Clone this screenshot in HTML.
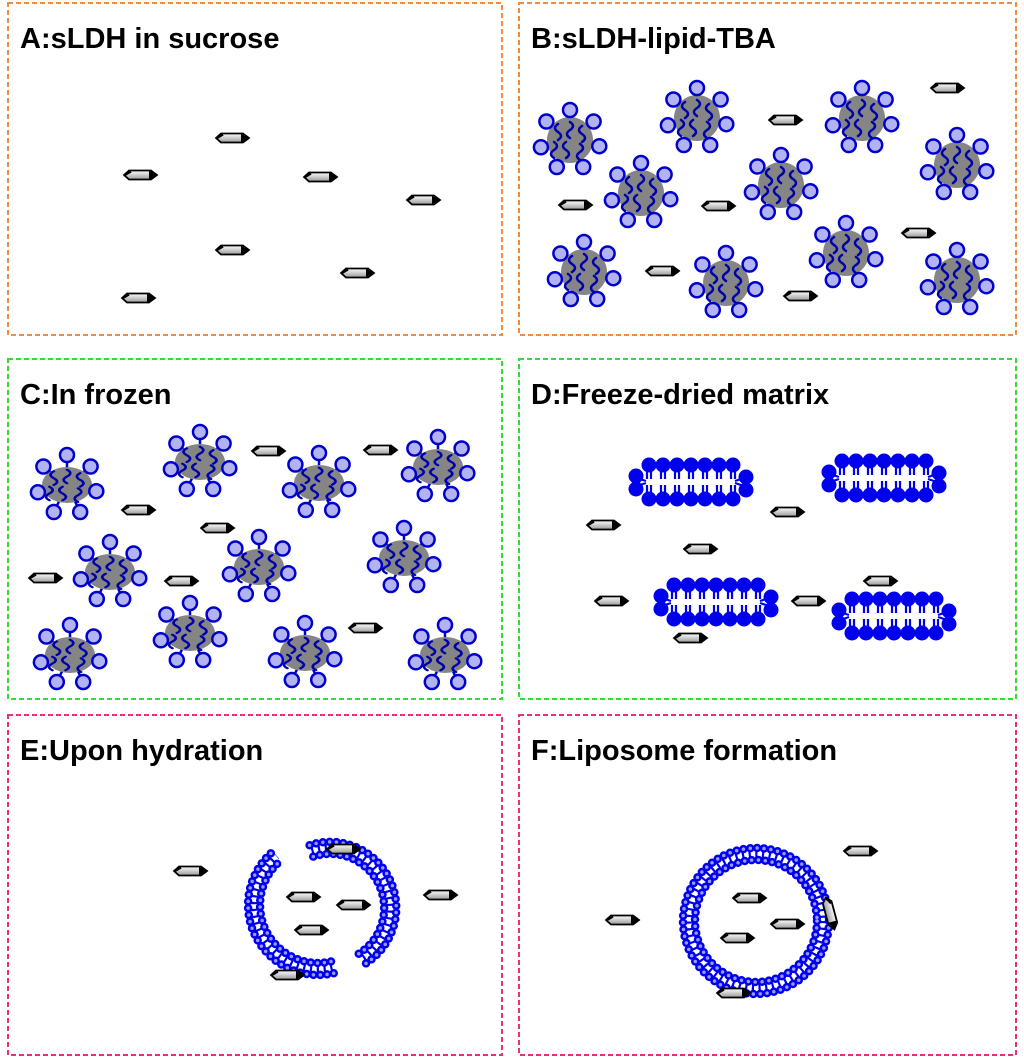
<!DOCTYPE html>
<html><head><meta charset="utf-8"><style>
html,body{margin:0;padding:0;background:#fff;}
svg{display:block;}
text{font-family:"Liberation Sans",sans-serif;font-weight:bold;font-size:29px;fill:#000;}
</style></head><body>
<svg width="1024" height="1064" viewBox="0 0 1024 1064" xmlns="http://www.w3.org/2000/svg">
<defs>
<linearGradient id="sg" x1="0" y1="0" x2="0" y2="1"><stop offset="0" stop-color="#fff"/><stop offset="1" stop-color="#999"/></linearGradient>
<g id="s">
<polygon points="-16,0 -11,-4.5 11,-4.5 17,0 11,4.5 -11,4.5" fill="url(#sg)" stroke="#000" stroke-width="1.8"/>
<polygon points="9,-4.5 17,0 9,4.5" fill="#000"/>
<line x1="-15" y1="0" x2="-9" y2="-3.5" stroke="#000" stroke-width="2.2"/>
</g>
<g id="tails" fill="none" stroke="#0000aa" stroke-width="2.5" stroke-linecap="round">
<path d="M-12,-16 q-6,4 0,8 q6,4 0,8"/>
<path d="M0,-18 q6,4 0,8 q-6,4 0,8"/>
<path d="M12,-14 q-6,4 0,8 q6,4 0,8"/>
<path d="M-16,2 q6,4 0,8 q-6,4 0,8"/>
<path d="M-4,2 q-6,4 0,8 q6,4 0,8"/>
<path d="M10,4 q6,4 0,8 q-6,4 0,8"/>
</g>
<g id="heads" fill="#b3b3f2" stroke="#0000cc" stroke-width="2.5">
<circle cx="0" cy="-30" r="7"/><circle cx="23.6" cy="-18.5" r="7"/><circle cx="29.3" cy="6.2" r="7"/>
<circle cx="13.2" cy="27" r="7"/><circle cx="-13.2" cy="27" r="7"/><circle cx="-29.1" cy="7.3" r="7"/>
<circle cx="-23.6" cy="-18.5" r="7"/>
</g>
<g id="m"><g stroke="#0000cc" stroke-width="2.5">
<line x1="0" y1="0" x2="0" y2="-30"/><line x1="0" y1="0" x2="23.6" y2="-18.5"/><line x1="0" y1="0" x2="29.3" y2="6.2"/><line x1="0" y1="0" x2="13.2" y2="27"/><line x1="0" y1="0" x2="-13.2" y2="27"/><line x1="0" y1="0" x2="-29.1" y2="7.3"/><line x1="0" y1="0" x2="-23.6" y2="-18.5"/></g>
<circle r="23" fill="#858585"/><use href="#tails"/><use href="#heads"/></g>
<g id="m2"><g stroke="#0000cc" stroke-width="2.5">
<line x1="0" y1="0" x2="0" y2="-30"/><line x1="0" y1="0" x2="23.6" y2="-18.5"/><line x1="0" y1="0" x2="29.3" y2="6.2"/><line x1="0" y1="0" x2="13.2" y2="27"/><line x1="0" y1="0" x2="-13.2" y2="27"/><line x1="0" y1="0" x2="-29.1" y2="7.3"/><line x1="0" y1="0" x2="-23.6" y2="-18.5"/></g>
<ellipse rx="25" ry="18" fill="#858585"/><use href="#tails" transform="scale(1.1,0.85)"/><use href="#heads"/></g>
<g id="b">
<g stroke="#0000ee" stroke-width="2.2">
<path d="M-42,-16v13M-38,-16v13M-28,-16v13M-24,-16v13M-14,-16v13M-10,-16v13M0,-16v13M4,-16v13M14,-16v13M18,-16v13M28,-16v13M32,-16v13M42,-16v13M46,-16v13"/>
<path d="M-42,16v-13M-38,16v-13M-28,16v-13M-24,16v-13M-14,16v-13M-10,16v-13M0,16v-13M4,16v-13M14,16v-13M18,16v-13M28,16v-13M32,16v-13M42,16v-13M46,16v-13"/>
<path d="M-52,-4l9,3M-52,4l9,-3M46,-1l9,-3M46,1l9,3"/>
</g>
<g fill="#0000ee">
<circle cx="-40" cy="-17" r="7.5"/><circle cx="-26" cy="-17" r="7.5"/><circle cx="-12" cy="-17" r="7.5"/><circle cx="2" cy="-17" r="7.5"/><circle cx="16" cy="-17" r="7.5"/><circle cx="30" cy="-17" r="7.5"/><circle cx="44" cy="-17" r="7.5"/>
<circle cx="-40" cy="17" r="7.5"/><circle cx="-26" cy="17" r="7.5"/><circle cx="-12" cy="17" r="7.5"/><circle cx="2" cy="17" r="7.5"/><circle cx="16" cy="17" r="7.5"/><circle cx="30" cy="17" r="7.5"/><circle cx="44" cy="17" r="7.5"/>
<circle cx="-53" cy="-6" r="7.5"/><circle cx="-53" cy="7" r="7.5"/><circle cx="57" cy="-5" r="7.5"/><circle cx="57" cy="8" r="7.5"/>
</g></g>
<g id="earcs">
<path d="M333.7,973.2 A70,70 0 0 1 273,851.4"/><path d="M331,961.5 A58,58 0 0 1 280.7,860.6"/>
<path d="M309.6,845.2 A66,66 0 0 1 365,964"/><path d="M313.3,856.6 A54,54 0 0 1 358.6,953.8"/>
</g>
<g id="etails">
<path d="M332.4,967.3 A64,64 0 0 1 276.8,856"/>
<path d="M311.5,851 A60,60 0 0 1 361.8,959"/>
</g>
</defs>
<g fill="none" stroke-width="2" stroke-dasharray="5,3">
<rect x="8" y="3" width="494" height="332" stroke="#f58b3c"/>
<rect x="519" y="3" width="497" height="332" stroke="#f58b3c"/>
<rect x="8" y="359" width="494" height="340" stroke="#33dd33"/>
<rect x="519" y="359" width="497" height="340" stroke="#33dd33"/>
<rect x="8" y="715" width="494" height="340" stroke="#e8317a"/>
<rect x="519" y="715" width="497" height="340" stroke="#e8317a"/>
</g>
<text x="20" y="48">A:sLDH in sucrose</text>
<text x="531" y="48">B:sLDH-lipid-TBA</text>
<text x="20" y="404">C:In frozen</text>
<text x="531" y="404">D:Freeze-dried matrix</text>
<text x="20" y="760">E:Upon hydration</text>
<text x="531" y="760">F:Liposome formation</text>
<!-- A -->
<use href="#s" x="140" y="175"/><use href="#s" x="232" y="138"/><use href="#s" x="320" y="177"/><use href="#s" x="423" y="200"/><use href="#s" x="232" y="250"/><use href="#s" x="357" y="273"/><use href="#s" x="138" y="298"/>
<!-- B -->
<use href="#m" x="570" y="140"/><use href="#m" x="697" y="118"/><use href="#m" x="862" y="118"/><use href="#m" x="957" y="165"/><use href="#m" x="641" y="193"/><use href="#m" x="781" y="185"/><use href="#m" x="584" y="272"/><use href="#m" x="726" y="283"/><use href="#m" x="846" y="253"/><use href="#m" x="957" y="280"/>
<use href="#s" x="947" y="88"/><use href="#s" x="785" y="120"/><use href="#s" x="575" y="205"/><use href="#s" x="718" y="206"/><use href="#s" x="918" y="233"/><use href="#s" x="662" y="271"/><use href="#s" x="800" y="296"/>
<!-- C -->
<use href="#m2" x="67" y="485"/><use href="#m2" x="200" y="462"/><use href="#m2" x="319" y="483"/><use href="#m2" x="438" y="467"/><use href="#m2" x="110" y="572"/><use href="#m2" x="259" y="567"/><use href="#m2" x="404" y="558"/><use href="#m2" x="70" y="655"/><use href="#m2" x="190" y="633"/><use href="#m2" x="305" y="653"/><use href="#m2" x="445" y="655"/>
<use href="#s" x="268" y="451"/><use href="#s" x="380" y="450"/><use href="#s" x="138" y="510"/><use href="#s" x="217" y="528"/><use href="#s" x="45" y="578"/><use href="#s" x="181" y="581"/><use href="#s" x="365" y="628"/>
<!-- D -->
<use href="#b" x="689" y="482"/><use href="#b" x="882" y="478"/><use href="#b" x="714" y="602"/><use href="#b" x="892" y="616"/>
<use href="#s" x="603" y="525"/><use href="#s" x="787" y="512"/><use href="#s" x="700" y="549"/><use href="#s" x="611" y="601"/><use href="#s" x="808" y="601"/><use href="#s" x="880" y="581"/><use href="#s" x="690" y="638"/>
<!-- E arcs -->
<g fill="none" stroke-linecap="round">
<use href="#etails" stroke="#0000ee" stroke-width="7" stroke-dasharray="2.2 4.6" stroke-linecap="butt"/>
<use href="#earcs" stroke="#0000ee" stroke-width="8.5" stroke-dasharray="0 6.8"/>
<use href="#earcs" stroke="#9a9aff" stroke-width="3.5" stroke-dasharray="0 6.8"/>
</g>
<use href="#s" x="190" y="871"/><use href="#s" x="343" y="849"/><use href="#s" x="440" y="895"/><use href="#s" x="303" y="897"/><use href="#s" x="353" y="905"/><use href="#s" x="311" y="930"/><use href="#s" x="287" y="975"/>
<!-- F ring -->
<g fill="none" stroke-linecap="round" stroke-dasharray="0 6.9">
<circle cx="756" cy="921" r="67" stroke="#0000ee" stroke-width="7" stroke-dasharray="2.2 4.5" stroke-linecap="butt"/>
<circle cx="756" cy="921" r="73" stroke="#0000ee" stroke-width="8.5"/><circle cx="756" cy="921" r="61" stroke="#0000ee" stroke-width="8.5"/>
<circle cx="756" cy="921" r="73" stroke="#9a9aff" stroke-width="3.5"/><circle cx="756" cy="921" r="61" stroke="#9a9aff" stroke-width="3.5"/>
</g>
<use href="#s" x="860" y="851"/><use href="#s" x="622" y="920"/><use href="#s" x="749" y="898"/><use href="#s" x="787" y="924"/><use href="#s" x="737" y="938"/><use href="#s" x="733" y="993"/>
<use href="#s" transform="translate(830,913) rotate(75)"/>
</svg>
</body></html>
